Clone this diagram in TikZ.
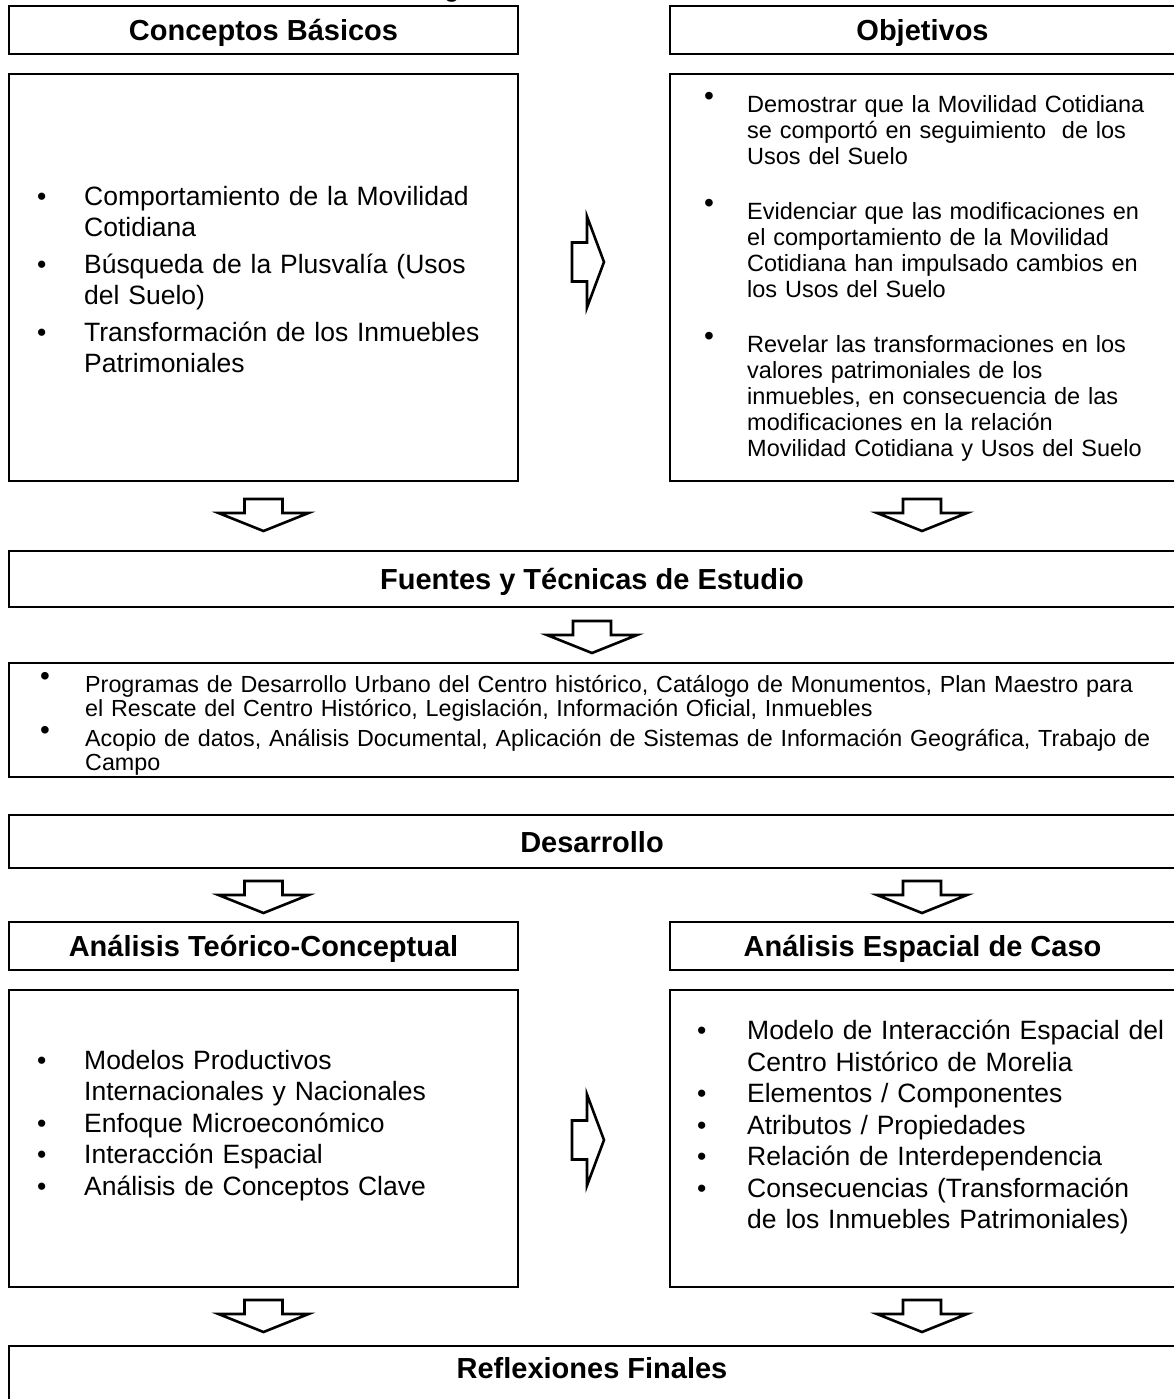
\documentclass[tikz,border=0pt]{standalone}
\usepackage{fontspec}
\setmainfont{Liberation Sans}
\newcommand\brk{\hfil\break}
\newcommand\bitem[3]{\par\noindent\hangindent=#2\hangafter=1\makebox[#2][l]{\hspace*{#1}\textbullet}#3\par}
\newcommand\ritem[3]{\par\noindent\hangindent=#2\hangafter=1\makebox[#2][l]{\hspace*{#1}\raisebox{.28em}{\scalebox{1.2}{\textbullet}}}#3\par}
\tikzset{
  box/.style={draw, line width=2pt, inner sep=0pt},
  hdr/.style={font=\bfseries\fontsize{29}{34}\selectfont, text height=21pt, text depth=0pt},
  blockarrow/.style={draw, line width=2.6pt, line join=miter, miter limit=20, fill=white},
  pics/downarr/.style={code={\draw[blockarrow] (-19,0) -- (19,0) -- (19,14) -- (45,14) -- (0,32) -- (-45,14) -- (-19,14) -- cycle;}},
  pics/rightarr/.style={code={\draw[blockarrow] (0,-19.5) -- (15,-19.5) -- (15,-45.5) -- (32,0) -- (15,45.5) -- (15,19.5) -- (0,19.5) -- cycle;}},
  txt/.style={inner sep=0pt, align=left},
}
\begin{document}
\begin{tikzpicture}[x=1pt,y=-1pt]
\useasboundingbox[fill=white] (0,0) rectangle (1173,1399);
% fragment of a cut-off title
\node[anchor=base, inner sep=0pt, font=\fontsize{28}{30}\selectfont] (topg) at (452,-3) {g};
% top row
\node[box, hdr, minimum width=509pt, minimum height=48pt] (cbh) at (263.5,30) {Conceptos Básicos};
\node[box, hdr, minimum width=505pt, minimum height=48pt] (obh) at (922.5,30) {Objetivos};
\node[box, minimum width=509pt, minimum height=407pt] (cbc) at (263.5,277.5) {};
\node[box, minimum width=505pt, minimum height=407pt] (obc) at (922.5,277.5) {};
\node[txt, anchor=west, text width=495pt, font=\fontsize{26.5}{31}\selectfont] (cbt) at (9,271) {\setlength{\parskip}{6pt}%
\bitem{28pt}{75pt}{Comportamiento de la Movilidad\brk Cotidiana}
\bitem{28pt}{75pt}{Búsqueda de la Plusvalía (Usos\brk del Suelo)}
\bitem{28pt}{75pt}{Transformación de los Inmuebles\brk Patrimoniales}};
\node[txt, anchor=west, text width=500pt, font=\fontsize{23.5}{26}\selectfont] (obt) at (670,259) {\setlength{\parskip}{29pt}%
\ritem{34pt}{77pt}{Demostrar que la Movilidad Cotidiana\brk se comportó en seguimiento\ \ de los\brk Usos del Suelo}
\ritem{34pt}{77pt}{Evidenciar que las modificaciones en\brk el comportamiento de la Movilidad\brk Cotidiana han impulsado cambios en\brk los Usos del Suelo}
\ritem{34pt}{77pt}{Revelar las transformaciones en los\brk valores patrimoniales de los\brk inmuebles, en consecuencia de las\brk modificaciones en la relación\brk Movilidad Cotidiana y Usos del Suelo}};
\pic at (572,262) {rightarr};
\pic at (263.5,499) {downarr};
\pic at (922,499) {downarr};
% sources
\node[box, hdr, minimum width=1166pt, minimum height=56pt] (fth) at (592,579) {Fuentes y Técnicas de Estudio};
\pic at (592,621) {downarr};
\node[box, minimum width=1166pt, minimum height=114pt] (ftc) at (592,720) {};
\node[txt, anchor=west, text width=1160pt, font=\fontsize{23.3}{24.5}\selectfont] (ftt) at (9,719) {\setlength{\parskip}{5pt}%
\ritem{31pt}{76pt}{Programas de Desarrollo Urbano del Centro histórico, Catálogo de Monumentos, Plan Maestro para\brk el Rescate del Centro Histórico, Legislación, Información Oficial, Inmuebles}
\ritem{31pt}{76pt}{Acopio de datos, Análisis Documental, Aplicación de Sistemas de Información Geográfica, Trabajo de\brk Campo}};
% development
\node[box, hdr, minimum width=1166pt, minimum height=53pt] (deh) at (592,841.5) {Desarrollo};
\pic at (263.5,881) {downarr};
\pic at (922,881) {downarr};
\node[box, hdr, minimum width=509pt, minimum height=48pt] (ath) at (263.5,946) {Análisis Teórico-Conceptual};
\node[box, hdr, minimum width=505pt, minimum height=48pt] (aeh) at (922.5,946) {Análisis Espacial de Caso};
\node[box, minimum width=509pt, minimum height=297pt] (atc) at (263.5,1138.5) {};
\node[box, minimum width=505pt, minimum height=297pt] (aec) at (922.5,1138.5) {};
\node[txt, anchor=west, text width=495pt, font=\fontsize{26.5}{31.5}\selectfont] (att) at (9,1119) {%
\bitem{28pt}{75pt}{Modelos Productivos\brk Internacionales y Nacionales}
\bitem{28pt}{75pt}{Enfoque Microeconómico}
\bitem{28pt}{75pt}{Interacción Espacial}
\bitem{28pt}{75pt}{Análisis de Conceptos Clave}};
\node[txt, anchor=west, text width=500pt, font=\fontsize{26.5}{31.5}\selectfont] (aet) at (670,1121) {%
\bitem{27pt}{77pt}{Modelo de Interacción Espacial del\brk Centro Histórico de Morelia}
\bitem{27pt}{77pt}{Elementos / Componentes}
\bitem{27pt}{77pt}{Atributos / Propiedades}
\bitem{27pt}{77pt}{Relación de Interdependencia}
\bitem{27pt}{77pt}{Consecuencias (Transformación\brk de los Inmuebles Patrimoniales)}};
\pic at (572,1140) {rightarr};
\pic at (263.5,1300) {downarr};
\pic at (922,1300) {downarr};
% final
\node[box, minimum width=1166pt, minimum height=70pt] (rfh) at (592,1381) {};
\node[hdr, inner sep=0pt] (rft) at (592,1368) {Reflexiones Finales};
\end{tikzpicture}
\end{document}
